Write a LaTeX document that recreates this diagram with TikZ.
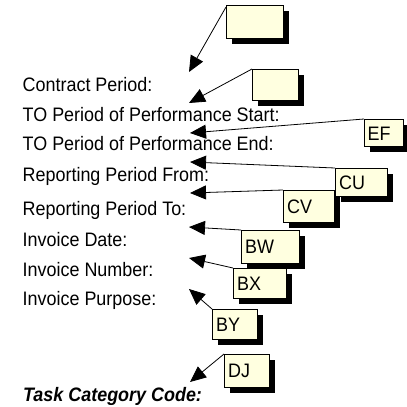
\documentclass[tikz,border=0pt]{standalone}
\usepackage{fontspec}
\setmainfont{Liberation Sans}[FakeStretch=0.92]
\usetikzlibrary{arrows.meta,shadows}
\definecolor{boxfill}{HTML}{FFFFE0}
\begin{document}
\begin{tikzpicture}[x=1pt,y=-1pt,
  fieldtext/.style={anchor=base west,inner sep=0pt,font=\fontsize{19.5}{22}\selectfont},
  boxlabel/.style={anchor=base west,inner sep=0pt,font=\fontsize{19.5}{22}\selectfont},
  notebox/.style={draw=black,line width=1.2pt,fill=boxfill,anchor=north west,inner sep=0pt,
    drop shadow={shadow xshift=5pt,shadow yshift=-5pt,fill=black,opacity=1}},
  pointer/.style={draw=black,line width=0.8pt,-{Triangle[length=16pt,width=14pt]}}]
\useasboundingbox (0,0) rectangle (407,407);
% field texts
\node[fieldtext] (t1) at (22.5,91) {Contract Period:};
\node[fieldtext] (t2) at (22.5,121) {TO Period of Performance Start:};
\node[fieldtext] (t3) at (22.5,150) {TO Period of Performance End:};
\node[fieldtext] (t4) at (22.5,181) {Reporting Period From:};
\node[fieldtext] (t5) at (22.5,215) {Reporting Period To:};
\node[fieldtext] (t6) at (22.5,246) {Invoice Date:};
\node[fieldtext] (t7) at (22.5,276) {Invoice Number:};
\node[fieldtext] (t8) at (22.5,305) {Invoice Purpose:};
\node[fieldtext,font=\fontsize{19.5}{22}\selectfont\bfseries\itshape] (t9) at (23,401) {Task Category Code:};
% arrow tips
\coordinate (p1) at (189,72);
\coordinate (p2) at (189,103);
\coordinate (p3) at (190,133);
\coordinate (p4) at (190,162);
\coordinate (p5) at (190,193);
\coordinate (p6) at (189,227);
\coordinate (p7) at (189,258);
\coordinate (p8) at (189,289);
\coordinate (p9) at (190,382);
% boxes
\node[notebox,minimum width=57pt,minimum height=33pt] (b1) at (226,5) {};
\node[notebox,minimum width=46pt,minimum height=31pt] (b2) at (252,69) {};
\node[notebox,minimum width=39pt,minimum height=27pt] (ef) at (364,119) {};
\node[notebox,minimum width=52pt,minimum height=28pt] (cu) at (335,168) {};
\node[notebox,minimum width=51pt,minimum height=32pt] (cv) at (283,190) {};
\node[notebox,minimum width=58pt,minimum height=33pt] (bw) at (241,230) {};
\node[notebox,minimum width=53pt,minimum height=30pt] (bx) at (233,268) {};
\node[notebox,minimum width=45pt,minimum height=30pt] (by) at (212,309) {};
\node[notebox,minimum width=45pt,minimum height=33pt] (dj) at (224,354) {};
% labels
\node[boxlabel] (lef) at ([shift={(3.5,21)}]ef.north west) {EF};
\node[boxlabel] (lcu) at ([shift={(4,21)}]cu.north west) {CU};
\node[boxlabel] (lcv) at ([shift={(4,23)}]cv.north west) {CV};
\node[boxlabel] (lbw) at ([shift={(4,23)}]bw.north west) {BW};
\node[boxlabel] (lbx) at ([shift={(4,22)}]bx.north west) {BX};
\node[boxlabel] (lby) at ([shift={(4,22)}]by.north west) {BY};
\node[boxlabel] (ldj) at ([shift={(4,23)}]dj.north west) {DJ};
% connectors
\draw[pointer] (b1.north west) ++(0,2) -- (p1);
\draw[pointer] (b2.north west) -- (p2);
\draw[pointer] (ef.north west) -- (p3);
\draw[pointer] (cu.north west) -- (p4);
\draw[pointer] (cv.north west) -- (p5);
\draw[pointer] (bw.north west) -- (p6);
\draw[pointer] (bx.north west) -- (p7);
\draw[pointer] (by.north west) -- (p8);
\draw[pointer] (dj.north west) -- (p9);
\end{tikzpicture}
\end{document}
